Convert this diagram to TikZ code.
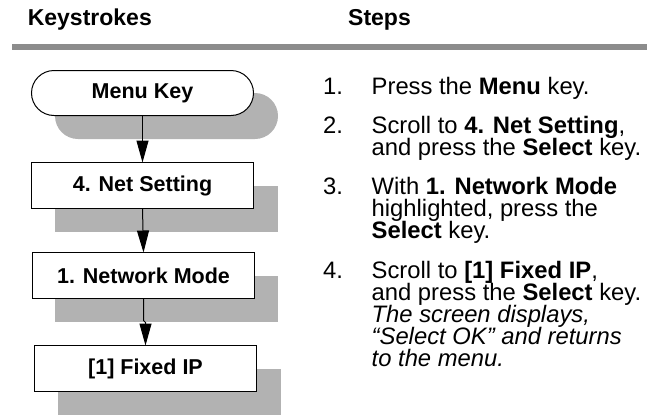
\documentclass[tikz,border=0pt]{standalone}
\usepackage{fontspec}
\setmainfont{Liberation Sans}
\usetikzlibrary{arrows.meta}
\definecolor{barcol}{gray}{0.55}
\definecolor{shadcol}{gray}{0.70}
\tikzset{
  keybox/.style={draw=black, line width=1pt, fill=white},
  boxtext/.style={font=\fontsize{21.5}{24}\selectfont\bfseries, inner sep=0pt},
  body/.style={font=\fontsize{23.8}{22}\selectfont, anchor=base west, inner sep=0pt},
  head/.style={font=\fontsize{23}{26}\selectfont\bfseries, anchor=base west, inner sep=0pt},
  flow/.style={line width=1pt, -{Triangle[length=22pt,width=12pt]}}
}
\begin{document}
\begin{tikzpicture}[x=1pt,y=-1pt]
\useasboundingbox (0,0) rectangle (647,418);
% headers
\node[head] (hk) at (27.6,25) {Keystrokes};
\node[head] (hs) at (348,25) {Steps};
\fill[barcol] (12,44) rectangle (647,50);
% shadows
\fill[shadcol, rounded corners=23pt] (55,93) rectangle (278,139);
\fill[shadcol] (55,186) rectangle (278,232);
\fill[shadcol] (55,276) rectangle (278,322);
\fill[shadcol] (58,369) rectangle (281,415);
% boxes
\draw[keybox, rounded corners=22.5pt] (31.5,70.5) rectangle (253.5,115.5);
\node[boxtext] (menu) at (142.5,93) {Menu Key};
\coordinate (menuB) at (142.5,115.5);
\draw[keybox] (31.5,162.5) rectangle (253.5,208.5);
\node[boxtext] (net) at (142.5,185.5) {4. Net Setting};
\coordinate (netT) at (142.5,162.5);
\coordinate (netB) at (142.5,208.5);
\draw[keybox] (32.5,252.5) rectangle (254.5,298.5);
\node[boxtext] (mode) at (143.5,275.5) {1. Network Mode};
\coordinate (modeT) at (143.5,252.5);
\coordinate (modeB) at (143.5,298.5);
\draw[keybox] (34.5,345.5) rectangle (256.5,391.5);
\node[boxtext] (fixed) at (145.5,368.5) {[1] Fixed IP};
\coordinate (fixedT) at (145.5,345.5);
\coordinate (jogA) at (143.5,320.5);
\coordinate (jogB) at (145.5,322.5);
% connectors
\draw[flow] (menuB) -- (netT);
\draw[flow] (netB) -- (modeT);
\draw[flow] (modeB) -- (jogA) -- (jogB) -- (fixedT);
% steps
\node[body] (n1) at (323,94) {1.};
\node[body] (t1) at (371.5,94) {Press the \textbf{Menu} key.};
\node[body] (n2) at (323,133) {2.};
\node[body] (t2a) at (371.5,133) {Scroll to \textbf{4. Net Setting},};
\node[body] (t2b) at (371.5,155) {and press the \textbf{Select} key.};
\node[body] (n3) at (323,194) {3.};
\node[body] (t3a) at (371.5,194) {With \textbf{1. Network Mode}};
\node[body] (t3b) at (371.5,216) {highlighted, press the};
\node[body] (t3c) at (371.5,238) {\textbf{Select} key.};
\node[body] (n4) at (323,278) {4.};
\node[body] (t4a) at (371.5,278) {Scroll to \textbf{[1] Fixed IP},};
\node[body] (t4b) at (371.5,300) {and press the \textbf{Select} key.};
\node[body] (t4c) at (371.5,322) {\itshape The screen displays,};
\node[body] (t4d) at (371.5,344) {\itshape “Select OK” and returns};
\node[body] (t4e) at (371.5,366) {\itshape to the menu.};
\end{tikzpicture}
\end{document}
